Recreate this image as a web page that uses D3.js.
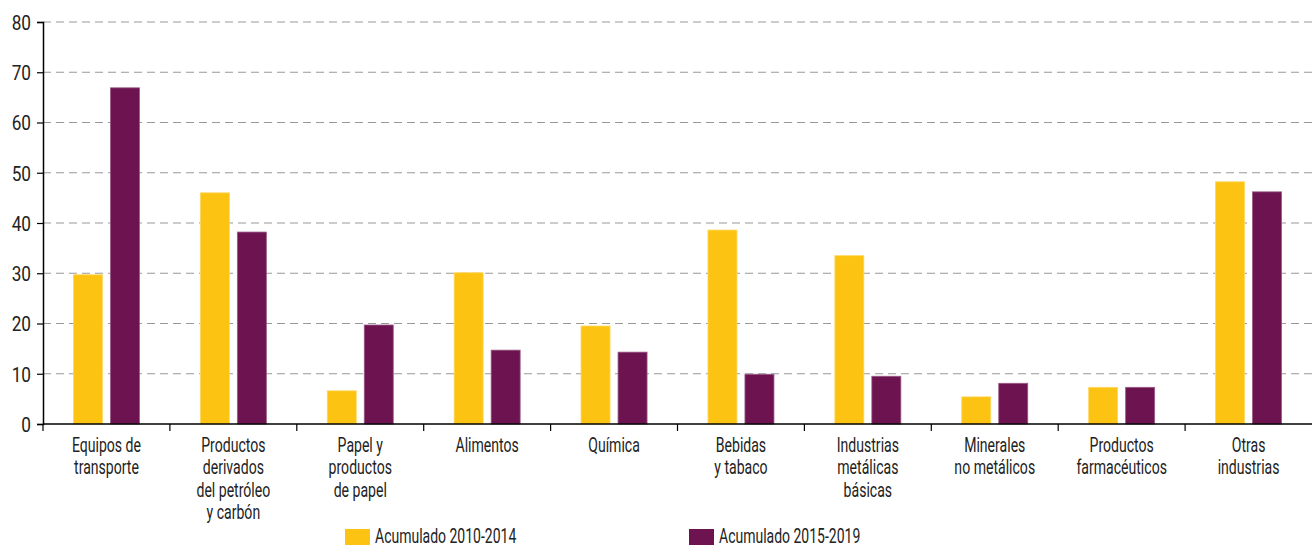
<!DOCTYPE html>
<html><head><meta charset="utf-8">
<script src="https://cdn.jsdelivr.net/npm/d3@7"></script>
<style>
body{margin:0;background:#fff;}
text{font-family:"Roboto",sans-serif;fill:#222;}
</style></head>
<body><svg id="c" width="1312" height="548"></svg>
<script>
const categories = [
  ["Equipos de","transporte"],
  ["Productos","derivados","del petróleo","y carbón"],
  ["Papel y","productos","de papel"],
  ["Alimentos"],
  ["Química"],
  ["Bebidas","y tabaco"],
  ["Industrias","metálicas","básicas"],
  ["Minerales","no metálicos"],
  ["Productos","farmacéuticos"],
  ["Otras","industrias"]
];
const seriesNames = ["Acumulado 2010-2014","Acumulado 2015-2019"];
const values2010_2014 = [29.7, 46.0, 6.6, 30.1, 19.5, 38.6, 33.5, 5.4, 7.3, 48.2];
const values2015_2019 = [66.9, 38.2, 19.7, 14.7, 14.3, 9.9, 9.5, 8.1, 7.3, 46.2];
const yTicks = [0,10,20,30,40,50,60,70,80];
const colors = ["#FCC312","#6C1350"];

const SX = 0.67, FS = 21, SXY = 0.82;
const svg = d3.select("#c");
const m = {l:43, r:0, t:22, b:124};
const W = 1312, H = 548;
const x = d3.scaleBand().domain(d3.range(categories.length)).range([m.l, W-m.r]).paddingInner(0).paddingOuter(0);
const y = d3.scaleLinear().domain([0,80]).range([H-m.b, m.t]);
const bw = 29, gap = 8;

// grid
svg.append("g").selectAll("line").data(yTicks.filter(d=>d>0)).join("line")
  .attr("x1", m.l).attr("x2", W).attr("y1", d=>y(d)).attr("y2", d=>y(d))
  .attr("stroke","#999").attr("stroke-width",1.2).attr("stroke-dasharray","8,5");

// bars
const series = [values2010_2014, values2015_2019];
series.forEach((vals, si) => {
  svg.append("g").selectAll("rect").data(vals).join("rect")
    .attr("x", (d,i) => x(i) + x.bandwidth()/2 - (bw + gap/2) + si*(bw+gap))
    .attr("y", d => y(d))
    .attr("width", bw)
    .attr("height", d => y(0) - y(d))
    .attr("fill", colors[si])
    .attr("stroke", si==0 ? "#FDD860" : "#9A5A86").attr("stroke-width",0.8);
});

// y axis
const ya = svg.append("g").attr("transform",`translate(${m.l},0)`)
  .call(d3.axisLeft(y).tickValues(yTicks).tickSize(6).tickPadding(0));
ya.select(".domain").attr("stroke","#000").attr("stroke-width",1.5);
ya.selectAll(".tick line").attr("stroke","#000").attr("stroke-width",1.2);
ya.selectAll(".tick text").attr("font-size",FS).style("fill","#222")
  .attr("x",-12/SXY).attr("dy","0.35em").attr("transform",`scale(${SXY},1)`);

// x axis
const xa = svg.append("g").attr("transform",`translate(0,${y(0)})`);
xa.append("line").attr("x1",m.l).attr("x2",W).attr("stroke","#000").attr("stroke-width",1.5);
xa.selectAll("line.t").data(d3.range(categories.length)).join("line").attr("class","t")
  .attr("x1", i=>x(i)).attr("x2", i=>x(i)).attr("y1",0).attr("y2",7)
  .attr("stroke","#000").attr("stroke-width",1.2);
const lab = xa.selectAll("text.cat").data(categories).join("text").attr("class","cat")
  .attr("text-anchor","middle").attr("font-size",FS)
  .attr("transform",(d,i)=>`translate(${x(i)+x.bandwidth()/2},28) scale(${SX},1)`);
lab.selectAll("tspan").data(d=>d).join("tspan")
  .attr("x",0).attr("dy",(d,i)=> i==0 ? 0 : 22.3).text(d=>d);

// legend
const leg = svg.append("g");
const lx = [345, 689];
seriesNames.forEach((n,i)=>{
  leg.append("rect").attr("x",lx[i]).attr("y",529).attr("width",25).attr("height",16).attr("fill",colors[i]);
  leg.append("text").attr("font-size",20)
    .attr("transform",`translate(${lx[i]+30},543) scale(0.70,1)`).text(n);
});
</script></body></html>
